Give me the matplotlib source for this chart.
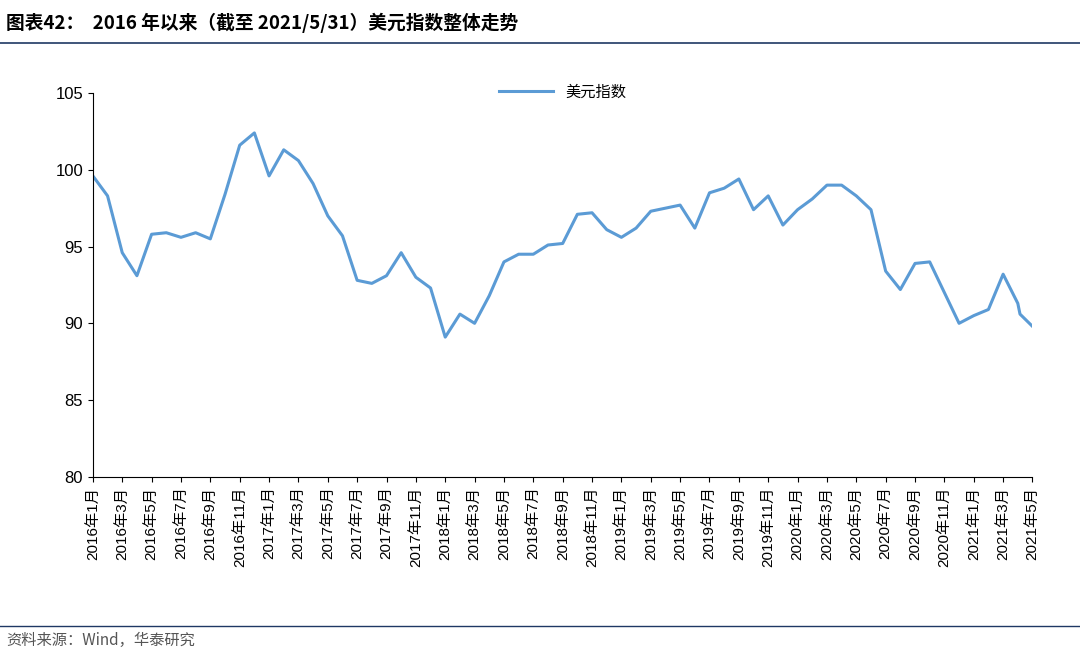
import matplotlib.pyplot as plt

plt.rcParams['font.family'] = ['Noto Sans CJK SC', 'DejaVu Sans']

# 美元指数 monthly, 2016-01 .. 2021-05 (plus one intra-month point in 2021-04)
dxy = [99.6, 98.3, 94.6, 93.1, 95.8, 95.9, 95.6, 95.9, 95.5, 98.4, 101.6, 102.4,
       99.6, 101.3, 100.6, 99.1, 97.0, 95.7, 92.8, 92.6, 93.1, 94.6, 93.0, 92.3,
       89.1, 90.6, 90.0, 91.8, 94.0, 94.5, 94.5, 95.1, 95.2, 97.1, 97.2, 96.1,
       95.6, 96.2, 97.3, 97.5, 97.7, 96.2, 98.5, 98.8, 99.4, 97.4, 98.3, 96.4,
       97.4, 98.1, 99.0, 99.0, 98.3, 97.4, 93.4, 92.2, 93.9, 94.0, 92.0, 90.0,
       90.5, 90.9, 93.2, 91.3, 90.6, 89.8]
xpos = list(range(64)) + [63.15, 64]

labels = []
for y in range(2016, 2022):
    for m in range(1, 13):
        labels.append(f"{y}年{m}月")
labels = labels[:65]

fig = plt.figure(figsize=(10.8, 6.55), dpi=100)
ax = fig.add_axes([0.086, 0.272, 0.870, 0.586])
ax.plot(xpos, dxy, color='#5B9BD5', lw=2.2, label='美元指数')
ax.set_ylim(80, 105)
ax.set_xlim(0, 64)
ax.set_yticks(range(80, 106, 5))
ax.set_xticks(range(0, 65, 2))
ax.set_xticklabels(labels[::2], rotation=90, fontsize=11,
                   family=['Liberation Sans', 'Noto Sans CJK SC'])
for t in ax.get_yticklabels():
    t.set_family(['Liberation Sans', 'Noto Sans CJK SC'])
ax.tick_params(axis='y', labelsize=12, direction='out')
ax.tick_params(axis='x', direction='out')
for s in ('top', 'right'):
    ax.spines[s].set_visible(False)
ax.legend(loc='upper center', bbox_to_anchor=(0.5, 1.06), frameon=False, fontsize=11,
          handlelength=3.5)

fig.text(0.006, 0.965, '图表42：  2016 年以来（截至 2021/5/31）美元指数整体走势',
         fontsize=13.5, fontweight='bold', va='center')
fig.add_artist(plt.Line2D([0, 1], [0.935, 0.935], color='#1F3864', lw=1.2))
fig.add_artist(plt.Line2D([0, 1], [0.045, 0.045], color='#1F3864', lw=1.0))
fig.text(0.006, 0.022, '资料来源：Wind，华泰研究', fontsize=11, color='#555555', va='center')

fig.savefig('out.png', dpi=100)
